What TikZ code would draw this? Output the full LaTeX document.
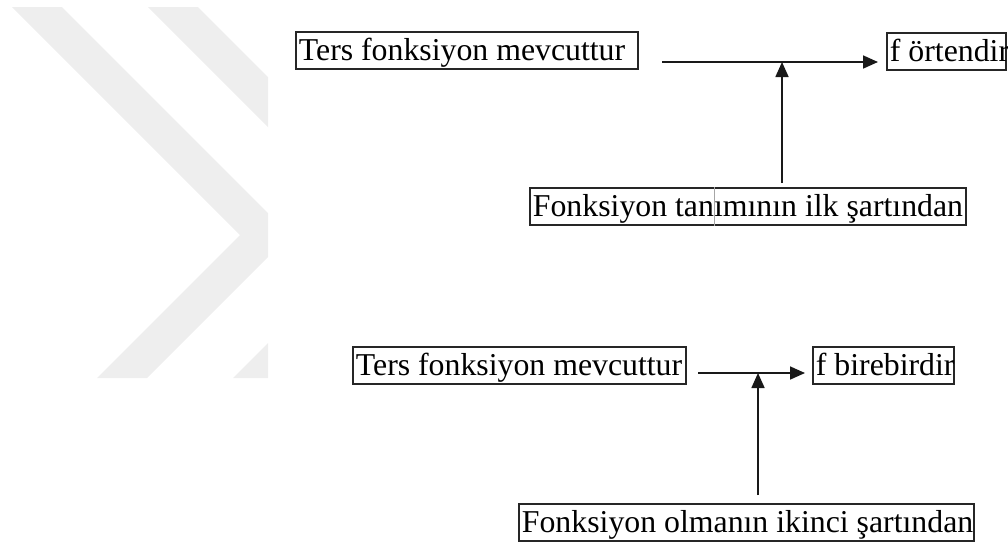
\documentclass[tikz,border=0pt]{standalone}
\usepackage{fontspec}
\setmainfont{Liberation Serif}
\usetikzlibrary{arrows.meta}
\definecolor{wmgray}{gray}{0.935}
\newcommand\dfont{\fontsize{31.8}{36}\selectfont}
\newcommand\tstrut{\rule[-7pt]{0pt}{35pt}}
\newcommand\boxtext[2]{\makebox[#1][l]{\tstrut#2}}
\begin{document}
\begin{tikzpicture}[x=1pt,y=-1pt,
  box/.style={draw=black!85, line width=1.8pt, inner xsep=3pt, inner ysep=1pt,
              anchor=north west, font=\dfont, text=black},
  arr/.style={-{Triangle[length=15pt,width=13pt]}, line width=1.7pt, draw=black!90}]
\useasboundingbox (0,0) rectangle (1008,542);

% background chevrons
\begin{scope}
  \clip (0,7) rectangle (268,378);
  \fill[wmgray] (12,7) -- (240,235) -- (97,378) -- (147,378) -- (290,235) -- (62,7) -- cycle;
  \fill[wmgray] (148,7) -- (376,235) -- (233,378) -- (283,378) -- (426,235) -- (198,7) -- cycle;
\end{scope}

% upper statement
\node[box] (inv1)  at (295,31)  {\boxtext{336pt}{Ters fonksiyon mevcuttur}};
\node[box] (onto)  at (886,32)  {\boxtext{113pt}{f örtendir}};
\node[box] (cond1) at (529,187) {\boxtext{430pt}{Fonksiyon tanımının ilk şartından}};
\draw[gray!70, line width=0.7pt]
  ([xshift=185pt]cond1.north west) -- ([xshift=185pt]cond1.south west);

% lower statement
\node[box] (inv2)  at (352,346) {\boxtext{327pt}{Ters fonksiyon mevcuttur}};
\node[box] (inj)   at (812,346) {\boxtext{135pt}{f birebirdir}};
\node[box] (cond2) at (518,503) {\boxtext{449pt}{Fonksiyon olmanın ikinci şartından}};

% connectors
\coordinate (s1) at (662,62);
\coordinate (j1) at (782,62);
\draw[arr, shorten >=8pt] (s1) -- (s1 -| onto.west);
\draw[arr, shorten <=4pt] (cond1.north -| j1) -- (j1);

\coordinate (s2) at (698,373);
\coordinate (j2) at (758,373);
\draw[arr, shorten >=7pt] (s2) -- (s2 -| inj.west);
\draw[arr, shorten <=8pt] (cond2.north -| j2) -- (j2);
\end{tikzpicture}
\end{document}
